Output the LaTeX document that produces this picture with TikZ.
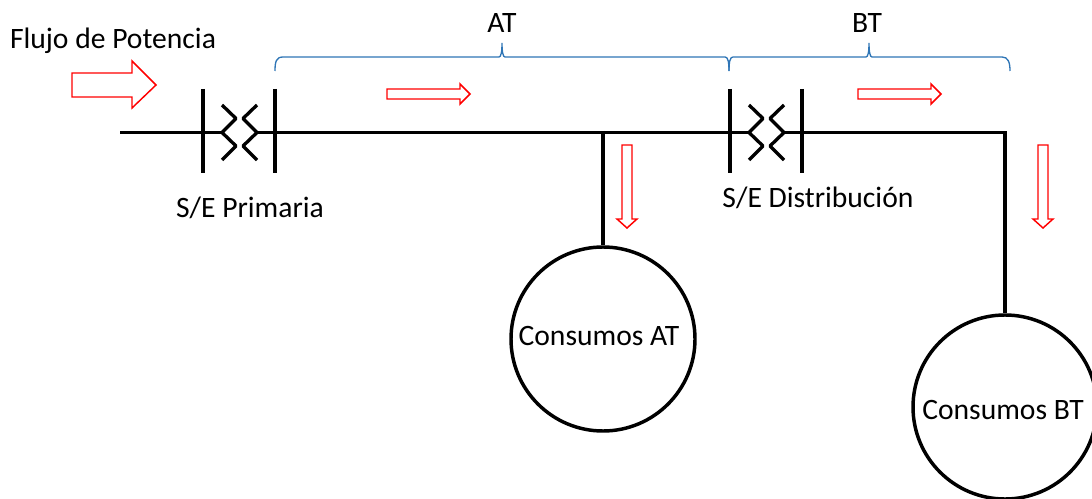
\documentclass[tikz,border=0pt]{standalone}
\usepackage{fontspec}
\setmainfont{Carlito}
\definecolor{flowred}{RGB}{255,0,0}
\definecolor{braceblue}{RGB}{46,117,182}
\tikzset{
  x=0.75pt,y=-0.75pt,
  wire/.style={draw=black,line width=2.6pt,line cap=butt,line join=miter},
  busbar/.style={draw=black,line width=3.6pt},
  xfmr/.style={draw=black,line width=2.5pt,line join=bevel},
  flow/.style={draw=flowred,line width=1.1pt,line join=miter,fill=white},
  bracket/.style={draw=braceblue,line width=1pt},
  lbl/.style={inner sep=0pt,font=\fontsize{22.2}{24}\selectfont,text=black},
  load/.style={circle,draw=black,line width=2.6pt,minimum size=138pt,inner sep=0pt}
}
\begin{document}
\begin{tikzpicture}
\useasboundingbox (0,0) rectangle (1092,499);
\clip (0,0) rectangle (1092,499);
% labels
\node[lbl] (flujo) at (113,41) {Flujo de Potencia};
\node[lbl] (at) at (502,23) {AT};
\node[lbl] (bt) at (867,23) {BT};
\node[lbl] (sep) at (250,208) {S/E Primaria};
\node[lbl] (sed) at (818,198) {S/E Distribución};
% coordinates
\coordinate (start) at (120,132.5);
\coordinate (t1l) at (222,132.5);
\coordinate (t1r) at (257,132.5);
\coordinate (t2l) at (749,132.5);
\coordinate (t2r) at (784,132.5);
\coordinate (tap) at (603,131);
\coordinate (corner) at (1005,132.5);
% loads
\node[load] (cat) at (603,339) {};
\node[load] (cbt) at (1005,407) {};
\node[lbl] (catl) at (599,336) {Consumos AT};
\node[lbl] (cbtl) at (1003,410) {Consumos BT};
% wires
\draw[wire] (start) -- (t1l);
\draw[wire] (t1r) -- (t2l);
\draw[wire] (t2r) -- (corner) -- (cbt.north);
\draw[wire] (tap) -- (cat.north);
% bus bars and transformer windings
\foreach \d in {0,527}{
  \draw[busbar] (203+\d,89) -- (203+\d,173);
  \draw[busbar] (275+\d,89) -- (275+\d,173);
  \draw[xfmr] (222+\d,105) -- (236+\d,118.5) -- (222+\d,132.5) -- (236+\d,146) -- (222+\d,160);
  \draw[xfmr] (257+\d,105) -- (243+\d,118.5) -- (257+\d,132.5) -- (243+\d,146) -- (257+\d,160);
}
% flow arrows
\draw[flow] (72,73) -- (132,73) -- (132,61) -- (156,85) -- (132,108) -- (132,97) -- (72,97) -- cycle;
\foreach \d in {0,471}{
  \draw[flow] (387+\d,89) -- (460+\d,89) -- (460+\d,84) -- (470+\d,94) -- (460+\d,104) -- (460+\d,99) -- (387+\d,99) -- cycle;
}
\foreach \px in {627,1043}{
  \draw[flow] (\px-5,145) -- (\px+5,145) -- (\px+5,219) -- (\px+10,219) -- (\px,228) -- (\px-10,219) -- (\px-5,219) -- cycle;
}
% braces
\draw[bracket] (275,71) .. controls (275,62) and (276,57) .. (283,57) -- (499,57) .. controls (501,57) and (502,52) .. (502,43) .. controls (502,52) and (503,57) .. (505,57) -- (725,57) .. controls (728,57) and (729,62) .. (729,71);
\draw[bracket] (729,71) .. controls (729,62) and (730,57) .. (733,57) -- (866,57) .. controls (868,57) and (869,52) .. (869,43) .. controls (869,52) and (870,57) .. (872,57) -- (1002,57) .. controls (1008,57) and (1010,62) .. (1010,71);
\end{tikzpicture}
\end{document}
